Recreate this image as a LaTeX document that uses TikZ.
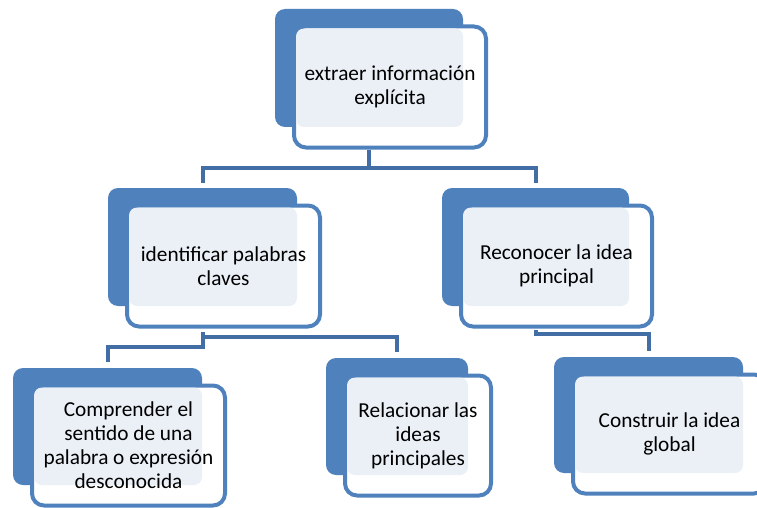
\documentclass[tikz,border=0pt]{standalone}
\usepackage{fontspec}
\setmainfont{Carlito}
\usepackage{xcolor}
\usepackage{tikz}
\usetikzlibrary{positioning, arrows.meta}

\definecolor{boxblue}{RGB}{79,129,189}
\definecolor{linkblue}{RGB}{66,110,165}
\definecolor{paleblue}{RGB}{235,240,247}

\tikzset{
  backbox/.style={rectangle, rounded corners=10pt, fill=boxblue, inner sep=0pt, outer sep=0pt},
  frontbox/.style={rectangle, rounded corners=12pt, draw=boxblue, fill=white, line width=4pt, inner sep=0pt},
  labeltext/.style={align=center, font=\fontsize{21.3}{24}\selectfont, text=black, inner sep=0pt},
  link/.style={draw=linkblue, line width=4pt}
}

% #1 nom, #2 x, #3 y, #4 largeur, #5 hauteur, #6 texte
\newcommand{\tierbox}[6]{%
  \node[backbox, minimum width=#4pt, minimum height=#5pt] (b#1) at (#2,#3) {};
  \node[frontbox, minimum width=#4pt+4pt, minimum height=#5pt+3pt] (f#1) at ([shift={(21,19)}]b#1.center) {};
  \fill[paleblue, rounded corners=8pt] ([xshift=4pt,yshift=-4pt]f#1.north west) rectangle (b#1.south east);
  \node[labeltext] (t#1) at (f#1.center) {#6};
}

\begin{document}
\begin{tikzpicture}[x=1pt, y=-1pt]
        \useasboundingbox (0,0) rectangle (757,508);
        \clip (0,0) rectangle (757,508);

        % Connecteurs (dessous)
        \coordinate (s1) at (369,150);
        \coordinate (s2) at (202.5,332);
        \coordinate (s3) at (535.5,330);
        \draw [link] (s1) -- ++(0,18) -| (202.5,183);
        \draw [link] (s1) -- ++(0,18) -| (535.5,183);
        \draw [link] (s2) -- ++(0,15) -| (107.5,362);
        \draw [link] (s2) -- ++(0,5) -| (397,352);
        \draw [link] (s3) -- ++(0,4) -| (648.5,351);

        % Boites
        \tierbox{1}{369}{68}{188}{118}{extraer información\\explícita}
        \tierbox{2}{202.5}{247}{189}{118}{identificar palabras\\claves}
        \tierbox{3}{535.5}{247}{187}{118}{Reconocer la idea\\principal}
        \tierbox{4}{107.5}{426.5}{189}{117}{Comprender el\\sentido de una\\palabra o expresión\\desconocida}
        \tierbox{5}{397}{416.5}{142}{117}{Relacionar las\\ideas\\principales}
        \tierbox{6}{648.5}{415}{189}{116}{Construir la idea\\global}

\end{tikzpicture}
\end{document}
